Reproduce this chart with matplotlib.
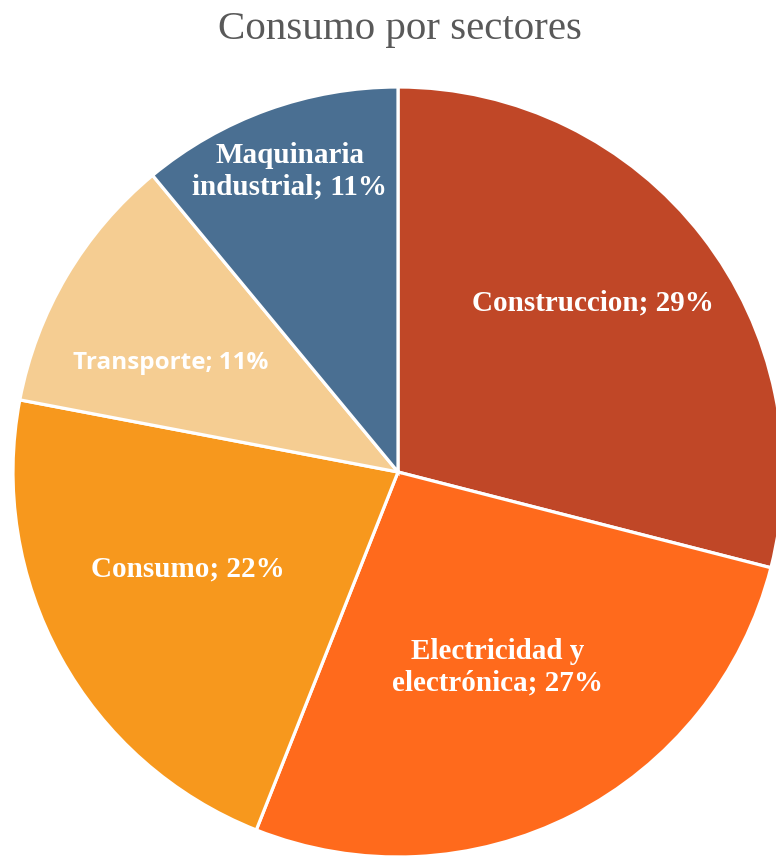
import numpy as np
import matplotlib.pyplot as plt

# consumo por sectores (%)
sectores = ['Construccion', 'Electricidad y\nelectrónica', 'Consumo', 'Transporte', 'Maquinaria\nindustrial']
valores = [29, 27, 22, 11, 11]
colores = ['#C04727', '#FF6A1C', '#F7981D', '#F5CD92', '#4A6F92']

# where each label sits inside its slice: radial fraction and angle nudge (deg)
dist_etiqueta = [0.67, 0.57, 0.60, 0.655, 0.83]
giro_etiqueta = [3, 0, -4, 5, 0]

W, H = 776, 857
cx, cy, R = 398, 472, 385

fig = plt.figure(figsize=(W / 100, H / 100), dpi=100)
ax = fig.add_axes([0, 0, 1, 1])

wedges, _ = ax.pie(valores, colors=colores, startangle=90, counterclock=False,
                   radius=1, wedgeprops=dict(edgecolor='white', linewidth=2.3))

for w, nombre, v, d, g in zip(wedges, sectores, valores, dist_etiqueta, giro_etiqueta):
    mid = np.deg2rad((w.theta1 + w.theta2) / 2 + g)
    txt = f'{nombre}; {v}%'
    if nombre == 'Transporte':
        fam, size = 'Open Sans', 17.5
    else:
        fam, size = 'Liberation Serif', 21
    ax.text(d * np.cos(mid), d * np.sin(mid), txt, ha='center', va='center',
            color='white', fontweight='bold', family=fam, fontsize=size,
            linespacing=1.22)

ax.set_xlim(-cx / R, (W - cx) / R)
ax.set_ylim(-(H - cy) / R, cy / R)
ax.set_aspect('auto')
ax.axis('off')

fig.text((cx + 2) / W, 1 - 29 / H, 'Consumo por sectores', ha='center', va='center',
         family='Liberation Serif', fontsize=29.5, color='#595959')

fig.savefig('out.png', dpi=100)
